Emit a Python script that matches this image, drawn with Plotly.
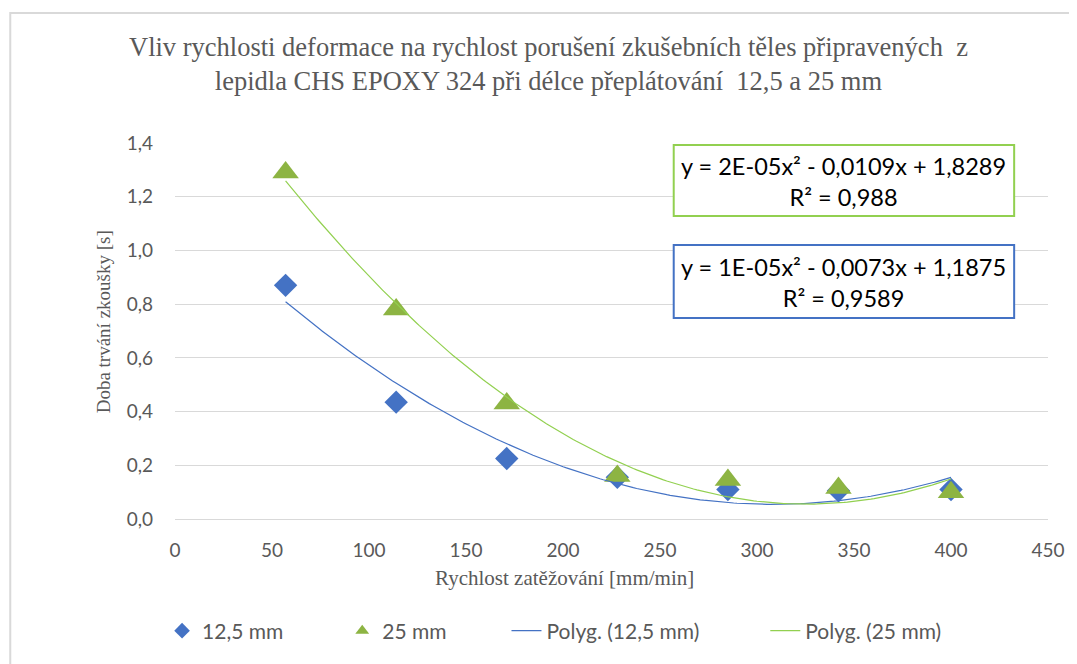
import numpy as np
import plotly.graph_objects as go

# ---- data ----
speed = [57, 114, 171, 228, 285, 342, 400]
dur_125 = [0.87, 0.435, 0.225, 0.155, 0.11, 0.105, 0.11]
dur_25 = [1.29, 0.78, 0.43, 0.16, 0.145, 0.115, 0.10]

names = ["12,5 mm", "25 mm", "Polyg. (12,5 mm)", "Polyg. (25 mm)"]
eq_125 = "y = 1E-05x² - 0,0073x + 1,1875<br>R² = 0,9589"
eq_25 = "y = 2E-05x² - 0,0109x + 1,8289<br>R² = 0,988"
title_text = ("Vliv rychlosti deformace na rychlost porušení zkušebních těles připravených  z<br>"
              "lepidla CHS EPOXY 324 při délce přeplátování  12,5 a 25 mm")
x_title = "Rychlost zatěžování [mm/min]"
y_title = "Doba trvání zkoušky [s]"

BLUE = "#4472C4"
GREEN = "#8DB443"
LBLUE = "#4472C4"
LGREEN = "#92D050"
GRAY = "#595959"

# polynomial trend lines (order 2) fitted to the data
xs = np.linspace(speed[0], speed[-1], 200)
p125 = np.polyfit(speed, dur_125, 2)
p25 = np.polyfit(speed, dur_25, 2)

fig = go.Figure()
fig.add_trace(go.Scatter(x=speed, y=dur_125, mode="markers", name=names[0], legend="legend",
                         marker=dict(symbol="diamond", size=18, color=BLUE)))
fig.add_trace(go.Scatter(x=speed, y=dur_25, mode="markers", name=names[1], legend="legend2",
                         marker=dict(symbol="triangle-up", size=23, color=GREEN)))
fig.add_trace(go.Scatter(x=xs, y=np.polyval(p125, xs), mode="lines", name=names[2], legend="legend3",
                         line=dict(color=LBLUE, width=1.2)))
fig.add_trace(go.Scatter(x=xs, y=np.polyval(p25, xs), mode="lines", name=names[3], legend="legend4",
                         line=dict(color=LGREEN, width=1.2)))

OFF = 8  # page body margin
W, H = 1077 - OFF, 664 - OFF
# plot area in page pixels: x 175..1052, y 143..519
L = 175 - OFF
T = 143 - OFF
R = W - (1052 - OFF)
B = H - (519 - OFF)
pw, ph = W - L - R, H - T - B

def px(xp):
    return (xp - OFF - L) / pw

def py(yp):
    return (H - B - (yp - OFF)) / ph

def leg(xpage, const):
    d = dict(orientation="h", x=px(xpage), y=py(631), xanchor="left", yanchor="middle",
             font=dict(size=21, color=GRAY, family="Lato, sans-serif"),
             bgcolor="rgba(0,0,0,0)")
    if const:
        d["itemsizing"] = "constant"
    return d

fig.update_layout(
    width=W, height=H,
    margin=dict(l=L, r=R, t=T, b=B),
    paper_bgcolor="white", plot_bgcolor="white",
    font=dict(family="Lato, sans-serif", color=GRAY, size=16),
    showlegend=True,
    legend=leg(162, True), legend2=leg(343, True), legend3=leg(508, False), legend4=leg(768, False),
    xaxis=dict(range=[0, 450], tickvals=list(range(0, 451, 50)), showgrid=False,
               zeroline=False, showline=False, ticks="", ticklabelstandoff=18,
               tickfont=dict(size=19, color=GRAY)),
    yaxis=dict(range=[0, 1.4], tickvals=[0, 0.2, 0.4, 0.6, 0.8, 1.0, 1.2, 1.4],
               ticktext=["0,0", "0,2", "0,4", "0,6", "0,8", "1,0", "1,2", "1,4"],
               showgrid=True, gridcolor="#D9D9D9", gridwidth=1.3, zeroline=True,
               zerolinecolor="#D9D9D9", zerolinewidth=1.3, showline=False, ticks="",
               ticklabelstandoff=21, tickfont=dict(size=19, color=GRAY)),
)

annotations = [
    dict(text=title_text, xref="paper", yref="paper", x=px(550), y=py(64),
         xanchor="center", yanchor="middle", showarrow=False,
         font=dict(family="Liberation Serif, serif", size=26.5, color=GRAY)),
    dict(text=x_title, xref="paper", yref="paper", x=px(566), y=py(578),
         xanchor="center", yanchor="middle", showarrow=False,
         font=dict(family="Liberation Serif, serif", size=21, color=GRAY)),
    dict(text=y_title, xref="paper", yref="paper", x=px(103), y=py(322),
         xanchor="center", yanchor="middle", showarrow=False, textangle=-90,
         font=dict(family="Liberation Serif, serif", size=19, color=GRAY)),
    dict(text=eq_25, xref="paper", yref="paper", x=px(847), y=py(181),
         xanchor="center", yanchor="middle", showarrow=False, align="center",
         font=dict(family="Lato, sans-serif", size=23.5, color="black")),
    dict(text=eq_125, xref="paper", yref="paper", x=px(847), y=py(282),
         xanchor="center", yanchor="middle", showarrow=False, align="center",
         font=dict(family="Lato, sans-serif", size=23.5, color="black")),
]
fig.update_layout(annotations=annotations)

shapes = [
    dict(type="rect", xref="paper", yref="paper", x0=px(9.5), x1=px(1100), y0=py(700), y1=py(13),
         line=dict(color="#D9D9D9", width=2), fillcolor="rgba(0,0,0,0)", layer="below"),
    dict(type="rect", xref="paper", yref="paper", x0=px(676), x1=px(1018), y0=py(216), y1=py(145),
         line=dict(color=LGREEN, width=2), fillcolor="white", layer="above"),
    dict(type="rect", xref="paper", yref="paper", x0=px(676), x1=px(1018), y0=py(318), y1=py(245),
         line=dict(color=LBLUE, width=2), fillcolor="white", layer="above"),
]
fig.update_layout(shapes=shapes)

fig.write_html("out.html")
